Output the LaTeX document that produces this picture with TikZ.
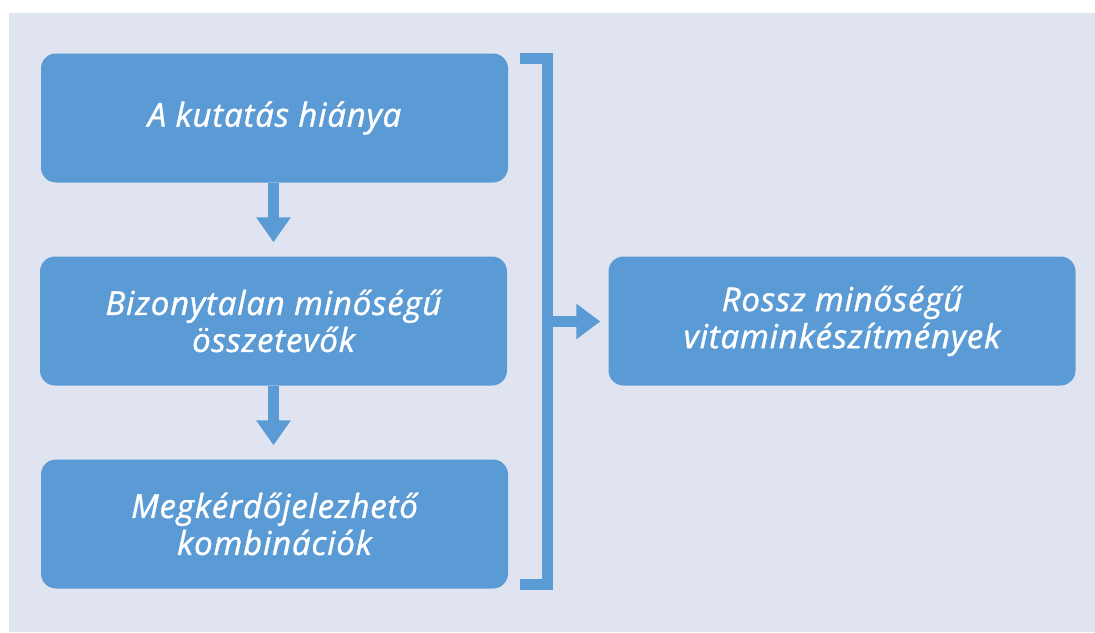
\documentclass[tikz,border=0pt]{standalone}
\usepackage{fontspec}
\setmainfont{Open Sans}[ItalicFeatures={FakeBold=1.2,LetterSpace=2.5}]
\usetikzlibrary{arrows.meta}
\definecolor{bg}{HTML}{DFE4F0}
\definecolor{bx}{HTML}{5B9BD5}
\begin{document}
\begin{tikzpicture}[x=1pt,y=-1pt,
  box/.style={fill=bx, rounded corners=15pt, minimum width=467pt, minimum height=129pt,
    text=white, font=\itshape\fontsize{33}{37}\selectfont, align=center, inner sep=0pt},
  downarrow/.style={draw=bx, line width=11pt, -{Triangle[length=25pt,width=33pt]}, shorten >=14pt},
  rightarrow/.style={draw=bx, line width=11pt, -{Triangle[length=24pt,width=34pt]}, shorten >=8pt},
  bracket/.style={draw=bx, line width=11pt, miter limit=10}]
\useasboundingbox (0,0) rectangle (1095,632);
\fill[bg] (9,13) rectangle (1095,632);
\node[box] (a) at (274.5,118) {A kutatás hiánya};
\node[box] (b) at (273.5,321) {Bizonytalan minőségű\\összetevők};
\node[box] (c) at (274.5,524) {Megkérdőjelezhető\\kombinációk};
\node[box] (d) at (842,321) {Rossz minőségű\\vitaminkészítmények};
\coordinate (x0) at (273.5,0);
\draw[downarrow] (a.south -| x0) -- (b.north -| x0);
\draw[downarrow] (b.south -| x0) -- (c.north -| x0);
\coordinate (t1) at (520,58.5);
\coordinate (t2) at (547.5,58.5);
\coordinate (t3) at (547.5,584.5);
\coordinate (t4) at (520,584.5);
\coordinate (m) at (547.5,321.5);
\draw[bracket] (t1) -- (t2) -- (t3) -- (t4);
\draw[rightarrow] (m) -- (d.west |- m);
\end{tikzpicture}
\end{document}
